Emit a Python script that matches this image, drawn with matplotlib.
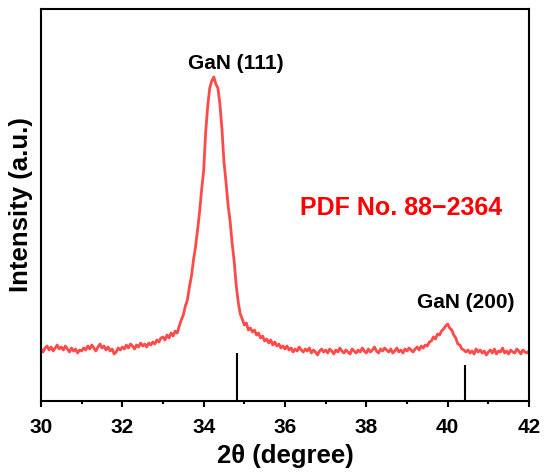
import numpy as np
import matplotlib.pyplot as plt
from matplotlib.ticker import MultipleLocator

plt.rcParams['font.family'] = ['Liberation Sans', 'DejaVu Sans']
plt.rcParams['font.weight'] = 'bold'

# XRD trace, 30-42 deg in 0.05 deg steps (intensity, a.u.)
intensity = [
    52, 49, 53, 55, 51, 54, 50, 53, 56, 52,
    54, 51, 55, 52, 49, 53, 50, 52, 48, 51,
    50, 53, 51, 55, 52, 56, 53, 50, 54, 57,
    53, 55, 51, 54, 50, 52, 47, 49, 53, 51,
    54, 52, 56, 53, 57, 55, 52, 56, 54, 58,
    55, 57, 54, 58, 56, 59, 57, 61, 59, 63,
    64, 61, 66, 63, 68, 65, 70, 68, 75, 81,
    86, 95, 101, 114, 125, 141, 154, 171, 189, 211,
    230, 269, 295, 313, 320, 324, 317, 313, 297, 272,
    239, 219, 196, 180, 158, 140, 116, 99, 87, 82,
    76, 78, 71, 73, 69, 71, 66, 68, 63, 65,
    60, 62, 58, 61, 56, 59, 55, 57, 53, 55,
    52, 55, 51, 53, 49, 52, 50, 54, 51, 49,
    52, 50, 53, 48, 51, 49, 46, 50, 52, 49,
    51, 48, 52, 50, 47, 51, 49, 53, 50, 48,
    51, 49, 47, 52, 50, 48, 51, 49, 53, 50,
    48, 52, 49, 51, 54, 50, 48, 52, 50, 53,
    51, 49, 52, 48, 50, 53, 49, 51, 48, 52,
    50, 53, 51, 49, 52, 54, 51, 55, 53, 56,
    55, 59, 60, 64, 62, 67, 66, 70, 72, 75,
    77, 73, 71, 66, 63, 57, 56, 52, 51, 49,
    51, 48, 50, 47, 52, 49, 51, 48, 50, 46,
    49, 51, 48, 52, 47, 50, 49, 53, 48, 50,
    47, 51, 49, 48, 52, 50, 47, 51, 49, 48,
    50,
]
two_theta = np.linspace(30.0, 42.0, len(intensity))

# reference pattern PDF 88-2364
ref_pos = [34.83, 40.43]
ref_height = [48, 36]

peak_labels = ['GaN (111)', 'GaN (200)']
peak_label_pos = [(34.79, 332), (40.45, 93)]

fig = plt.figure(figsize=(5.5, 4.73), dpi=100)
ax = fig.add_axes([0.0745, 0.1522, 0.8873, 0.8288])

ax.plot(two_theta, intensity, color='#ff4a4a', linewidth=2.0)
ax.vlines(ref_pos, 0, ref_height, color='black', linewidth=1.5)

for txt, (x, y) in zip(peak_labels, peak_label_pos):
    ax.text(x, y, txt, ha='center', va='baseline', fontsize=15, fontweight='bold')
ax.text(38.86, 186, 'PDF No. 88\u22122364', ha='center', va='baseline',
        fontsize=18, fontweight='bold', color='red')

ax.set_xlim(30, 42)
ax.set_ylim(0, 392)
ax.xaxis.set_major_locator(MultipleLocator(2))
ax.xaxis.set_minor_locator(MultipleLocator(1))
ax.set_yticks([])
ax.tick_params(axis='x', which='major', direction='out', length=4, width=1.5,
               labelsize=15, pad=8)
ax.tick_params(axis='x', which='minor', direction='out', length=2, width=1.5)
for sp in ax.spines.values():
    sp.set_linewidth(1.5)

ax.set_xlabel('2\u03b8 (degree)', fontsize=18.5, fontweight='bold', labelpad=5)
ax.set_ylabel('Intensity (a.u.)', fontsize=18.5, fontweight='bold', labelpad=6)

fig.savefig('out.png', dpi=100)
